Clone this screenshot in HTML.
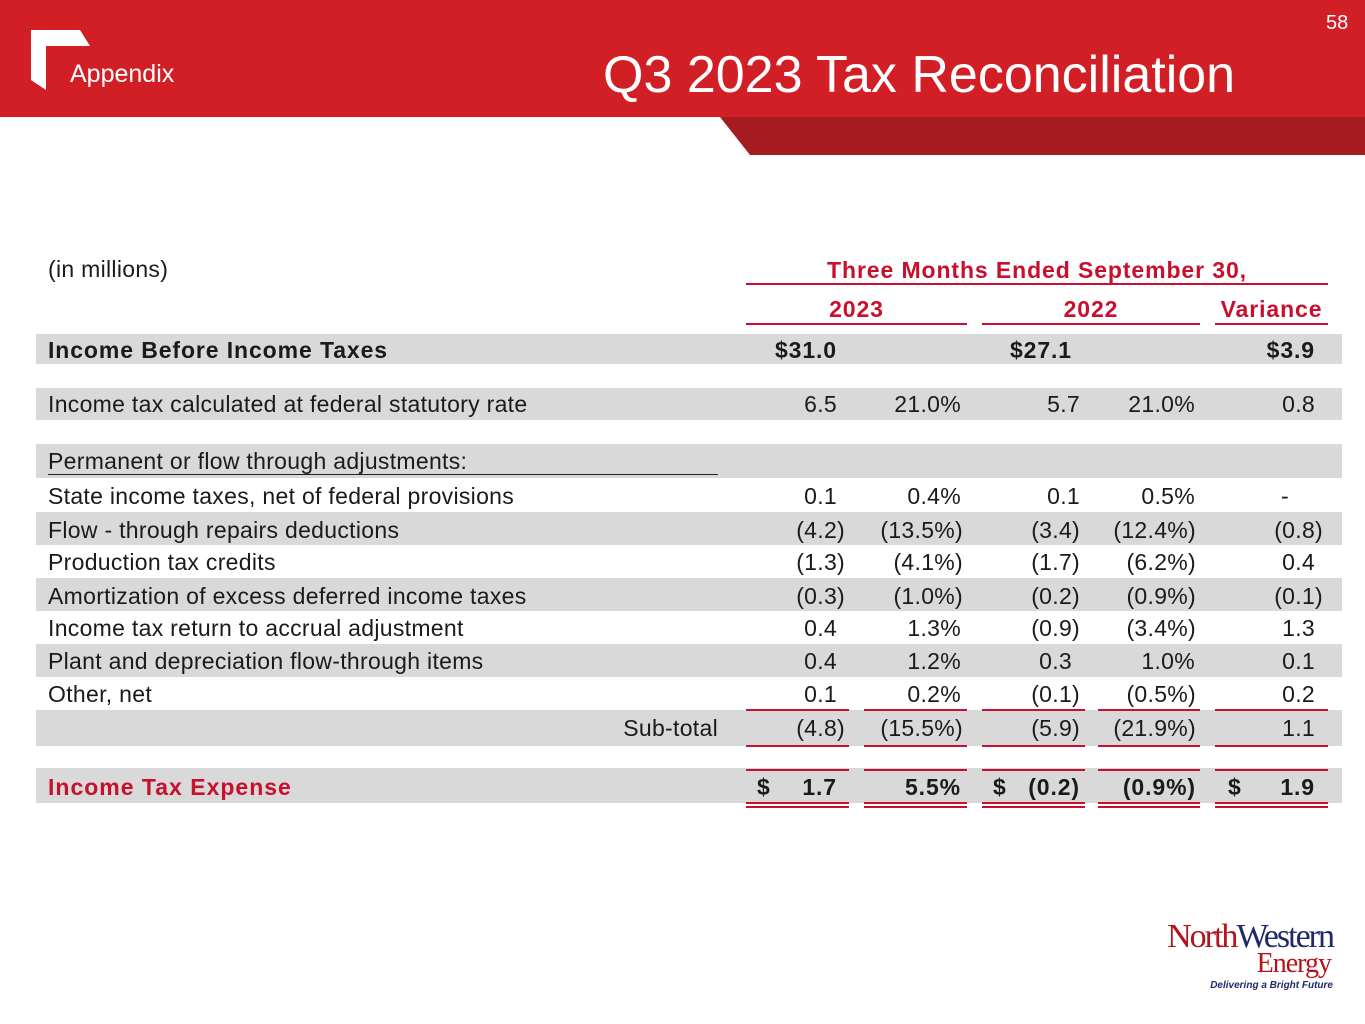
<!DOCTYPE html>
<html><head><meta charset="utf-8"><style>
body{margin:0;width:1365px;height:1024px;position:relative;background:#fff;font-family:"Liberation Sans",sans-serif;overflow:hidden}
.a{position:absolute}
.band{position:absolute;left:36px;width:1306px;background:#d9d9d9}
.t{position:absolute;font-size:23px;letter-spacing:0.3px;color:#1a1a1a;white-space:nowrap;line-height:26px}
.n{position:absolute;font-size:23px;letter-spacing:0.3px;color:#1a1a1a;text-align:right;white-space:nowrap;line-height:26px}
.bd{font-weight:bold;letter-spacing:0.9px}
.rl{position:absolute;height:2px;background:#c8102e}
</style></head><body>
<div class="a" style="left:0;top:0;width:1365px;height:117px;background:#d21f26"></div>
<div class="a" style="left:0;top:117px;width:1365px;height:38px;background:#a51b20;clip-path:polygon(720px 0,1365px 0,1365px 38px,750px 38px)"></div>
<svg class="a" style="left:28px;top:30px" width="64" height="62"><polygon points="3,0 52,0 62,16 18,16 18,60 3,50" fill="#fff"/></svg>
<div class="a" style="left:70px;top:60px;font-size:25px;color:#fff">Appendix</div>
<div class="a" style="left:603px;top:45px;font-size:52px;color:#fff">Q3 2023 Tax Reconciliation</div>
<div class="a" style="left:1326px;top:12px;font-size:20px;color:#fff">58</div>

<div class="t" style="left:48px;top:256px">(in millions)</div>
<div class="t bd" style="left:746px;width:582px;text-align:center;top:257px;color:#c8102e">Three Months Ended September 30,</div>
<div class="rl" style="left:746px;width:582px;top:283px"></div>
<div class="t bd" style="left:746px;width:221px;text-align:center;top:296px;color:#c8102e">2023</div>
<div class="t bd" style="left:982px;width:218px;text-align:center;top:296px;color:#c8102e">2022</div>
<div class="t bd" style="left:1215px;width:113px;text-align:center;top:296px;color:#c8102e">Variance</div>
<div class="rl" style="left:746px;width:221px;top:323px"></div>
<div class="rl" style="left:982px;width:218px;top:323px"></div>
<div class="rl" style="left:1215px;width:113px;top:323px"></div>

<div class="band" style="top:334px;height:30px"></div>
<div class="band" style="top:388px;height:32px"></div>
<div class="band" style="top:444px;height:34px"></div>
<div class="band" style="top:512px;height:33px"></div>
<div class="band" style="top:578px;height:33px"></div>
<div class="band" style="top:644px;height:33px"></div>
<div class="band" style="top:710px;height:36px"></div>
<div class="band" style="top:768px;height:35px"></div>

<div class="t bd" style="left:48px;top:337px">Income Before Income Taxes</div>
<div class="n bd" style="right:528px;top:337px">$31.0</div>
<div class="n bd" style="right:293px;top:337px">$27.1</div>
<div class="n bd" style="right:50px;top:337px">$3.9</div>

<div class="t" style="left:48px;top:391px">Income tax calculated at federal statutory rate</div>
<div class="n" style="right:528px;top:391px">6.5</div>
<div class="n" style="right:404px;top:391px">21.0%</div>
<div class="n" style="right:285px;top:391px">5.7</div>
<div class="n" style="right:170px;top:391px">21.0%</div>
<div class="n" style="right:50px;top:391px">0.8</div>

<div class="t" style="left:48px;top:448px">Permanent or flow through adjustments:</div>
<div class="a" style="left:48px;top:474px;width:670px;height:1px;background:#222"></div>

<div class="t" style="left:48px;top:483px">State income taxes, net of federal provisions</div>
<div class="n" style="right:528px;top:483px">0.1</div>
<div class="n" style="right:404px;top:483px">0.4%</div>
<div class="n" style="right:285px;top:483px">0.1</div>
<div class="n" style="right:170px;top:483px">0.5%</div>
<div class="n" style="right:76px;top:483px">-</div>

<div class="t" style="left:48px;top:517px">Flow - through repairs deductions</div>
<div class="n" style="right:520px;top:517px">(4.2)</div>
<div class="n" style="right:402px;top:517px">(13.5%)</div>
<div class="n" style="right:285px;top:517px">(3.4)</div>
<div class="n" style="right:169px;top:517px">(12.4%)</div>
<div class="n" style="right:42px;top:517px">(0.8)</div>

<div class="t" style="left:48px;top:549px">Production tax credits</div>
<div class="n" style="right:520px;top:549px">(1.3)</div>
<div class="n" style="right:402px;top:549px">(4.1%)</div>
<div class="n" style="right:285px;top:549px">(1.7)</div>
<div class="n" style="right:169px;top:549px">(6.2%)</div>
<div class="n" style="right:50px;top:549px">0.4</div>

<div class="t" style="left:48px;top:583px">Amortization of excess deferred income taxes</div>
<div class="n" style="right:520px;top:583px">(0.3)</div>
<div class="n" style="right:402px;top:583px">(1.0%)</div>
<div class="n" style="right:285px;top:583px">(0.2)</div>
<div class="n" style="right:169px;top:583px">(0.9%)</div>
<div class="n" style="right:42px;top:583px">(0.1)</div>

<div class="t" style="left:48px;top:615px">Income tax return to accrual adjustment</div>
<div class="n" style="right:528px;top:615px">0.4</div>
<div class="n" style="right:404px;top:615px">1.3%</div>
<div class="n" style="right:285px;top:615px">(0.9)</div>
<div class="n" style="right:169px;top:615px">(3.4%)</div>
<div class="n" style="right:50px;top:615px">1.3</div>

<div class="t" style="left:48px;top:648px">Plant and depreciation flow-through items</div>
<div class="n" style="right:528px;top:648px">0.4</div>
<div class="n" style="right:404px;top:648px">1.2%</div>
<div class="n" style="right:293px;top:648px">0.3</div>
<div class="n" style="right:170px;top:648px">1.0%</div>
<div class="n" style="right:50px;top:648px">0.1</div>

<div class="t" style="left:48px;top:681px">Other, net</div>
<div class="n" style="right:528px;top:681px">0.1</div>
<div class="n" style="right:404px;top:681px">0.2%</div>
<div class="n" style="right:285px;top:681px">(0.1)</div>
<div class="n" style="right:169px;top:681px">(0.5%)</div>
<div class="n" style="right:50px;top:681px">0.2</div>

<div class="n" style="right:647px;top:715px">Sub-total</div>
<div class="n" style="right:520px;top:715px">(4.8)</div>
<div class="n" style="right:402px;top:715px">(15.5%)</div>
<div class="n" style="right:285px;top:715px">(5.9)</div>
<div class="n" style="right:169px;top:715px">(21.9%)</div>
<div class="n" style="right:50px;top:715px">1.1</div>

<div class="t bd" style="left:48px;top:774px;color:#c8102e;letter-spacing:1px">Income Tax Expense</div>
<div class="t bd" style="left:757px;top:774px">$</div>
<div class="n bd" style="right:528px;top:774px">1.7</div>
<div class="n bd" style="right:404px;top:774px">5.5%</div>
<div class="t bd" style="left:993px;top:774px">$</div>
<div class="n bd" style="right:285px;top:774px">(0.2)</div>
<div class="n bd" style="right:169px;top:774px">(0.9%)</div>
<div class="t bd" style="left:1228px;top:774px">$</div>
<div class="n bd" style="right:50px;top:774px">1.9</div>

<div id="lines"></div>
<script>
var cols=[[746,103],[864,103],[982,103],[1098,102],[1215,113]];
var ys=[709,745,769,802,806];
var host=document.getElementById('lines');
ys.forEach(function(y){cols.forEach(function(c){var d=document.createElement('div');


d.className='rl';d.style.left=c[0]+'px';d.style.width=c[1]+'px';d.style.top=y+'px';host.appendChild(d);});});
</script>

<div class="a" style="left:1130px;top:918px;width:205px;height:80px">
<div style="position:absolute;right:2px;top:0;font-family:'Liberation Serif',serif;font-size:34px;letter-spacing:-2px;white-space:nowrap"><span style="color:#b5121b">North</span><span style="color:#1f2a6b">Western</span></div>
<div style="position:absolute;right:4px;top:30px;font-family:'Liberation Serif',serif;font-size:28px;color:#b5121b;letter-spacing:-1px">Energy</div>
<div style="position:absolute;right:2px;top:62px;font-size:10px;font-weight:bold;font-style:italic;color:#1f2a6b;white-space:nowrap">Delivering a Bright Future</div>
</div>
</body></html>
